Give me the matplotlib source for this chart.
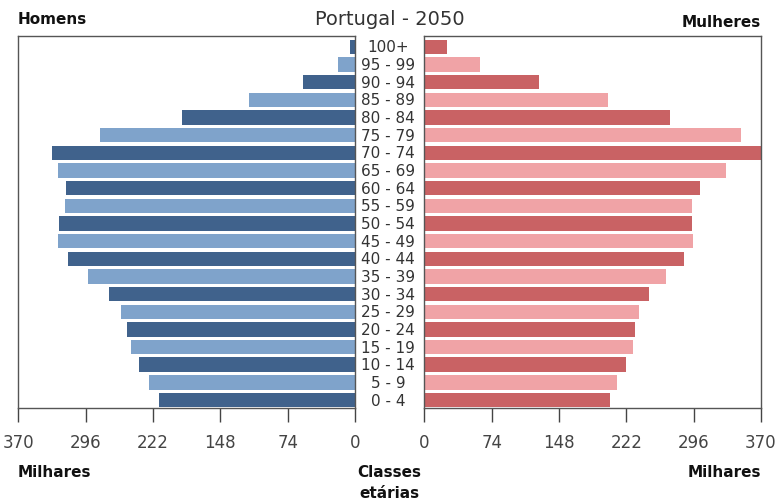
import matplotlib.pyplot as plt

# age classes, bottom to top
ages = ["0 - 4", "5 - 9", "10 - 14", "15 - 19", "20 - 24", "25 - 29", "30 - 34",
        "35 - 39", "40 - 44", "45 - 49", "50 - 54", "55 - 59", "60 - 64",
        "65 - 69", "70 - 74", "75 - 79", "80 - 84", "85 - 89", "90 - 94",
        "95 - 99", "100+"]

# thousands
homens = [215, 226, 237, 246, 251, 257, 271, 293, 316, 327, 325, 319, 318,
          327, 333, 280, 190, 116, 57, 19, 5.5]
mulheres = [204, 212, 222, 229, 232, 236, 247, 266, 286, 295, 294, 294, 303,
            332, 372, 348, 270, 202, 126, 61, 24.6]

ticks = [0, 74, 148, 222, 296, 370]

men_cols = ["#40628c", "#7fa3cb"]
wom_cols = ["#c96264", "#f0a3a6"]

fig = plt.figure(figsize=(7.79, 5.02), dpi=100)
axL = fig.add_axes([0.0237, 0.1853, 0.432, 0.741])
axR = fig.add_axes([0.5447, 0.1853, 0.432, 0.741])

y = list(range(len(ages)))
axL.barh(y, homens, height=0.82, color=[men_cols[i % 2] for i in y])
axR.barh(y, mulheres, height=0.82, color=[wom_cols[i % 2] for i in y])

axL.set_xlim(370, 0)
axR.set_xlim(0, 370)
for ax in (axL, axR):
    ax.set_ylim(-0.45, 20.62)
    ax.set_yticks([])
    ax.set_xticks(ticks)
    ax.tick_params(axis="x", direction="out", length=10, width=1,
                   colors="#444444", labelsize=12, pad=8)
    for lab in ax.get_xticklabels():
        lab.set_family(["Liberation Sans Narrow", "DejaVu Sans"])
    for s in ax.spines.values():
        s.set_color("#555555")
        s.set_linewidth(1)

# age labels in the middle
for i, a in enumerate(ages):
    fig.text(0.498, axL.transData.transform((0, i))[1] / fig.bbox.height,
             a, ha="center", va="center", fontsize=11, color="#333333")

fig.text(0.5, 0.962, "Portugal - 2050", ha="center", va="center",
         fontsize=14, color="#333333")
fig.text(0.022, 0.962, "Homens", ha="left", va="center", fontsize=11,
         fontweight="bold", color="#111111")
fig.text(0.977, 0.955, "Mulheres", ha="right", va="center", fontsize=11,
         fontweight="bold", color="#111111")
fig.text(0.022, 0.058, "Milhares", ha="left", va="center", fontsize=11,
         fontweight="bold", color="#111111")
fig.text(0.977, 0.058, "Milhares", ha="right", va="center", fontsize=11,
         fontweight="bold", color="#111111")
fig.text(0.5, 0.058, "Classes", ha="center", va="center", fontsize=11,
         fontweight="bold", color="#111111")
fig.text(0.5, 0.016, "etárias", ha="center", va="center", fontsize=11,
         fontweight="bold", color="#111111")

fig.savefig("out.png", dpi=100)
